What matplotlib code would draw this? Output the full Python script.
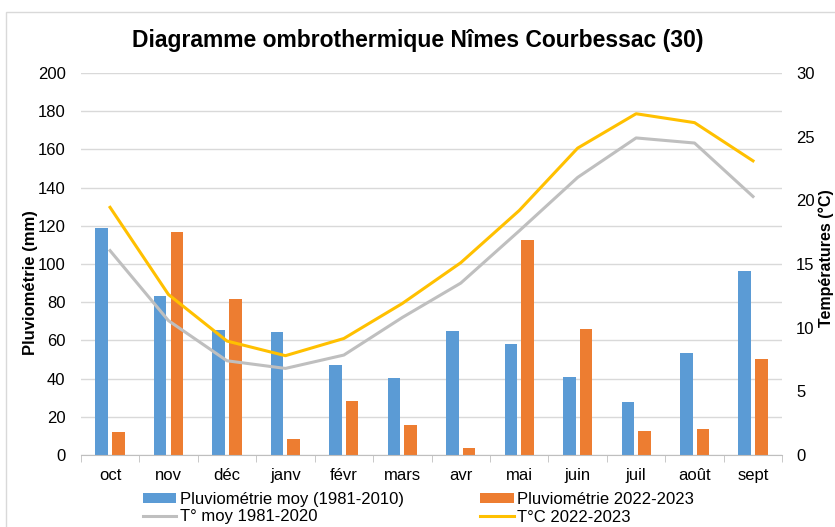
import numpy as np
import matplotlib.pyplot as plt
from matplotlib.patches import Rectangle

plt.rcParams['font.family'] = ['Liberation Sans', 'DejaVu Sans']

# données
mois = ['oct', 'nov', 'déc', 'janv', 'févr', 'mars', 'avr', 'mai', 'juin', 'juil', 'août', 'sept']
pluie_moy = [119, 83, 65.6, 64.4, 47, 40.3, 65, 58, 40.8, 28, 53.2, 96.3]
pluie_2223 = [12, 116.6, 81.5, 8.5, 28.4, 15.5, 3.7, 112.4, 66.1, 12.4, 13.4, 50.3]
temp_moy = [16.05, 10.55, 7.4, 6.8, 7.85, 10.8, 13.5, 17.6, 21.8, 24.9, 24.5, 20.3]
temp_2223 = [19.45, 12.6, 8.95, 7.8, 9.15, 11.9, 15.1, 19.2, 24.1, 26.8, 26.1, 23.1]

bleu = '#5B9BD5'
orange = '#ED7D31'
gris = '#BFBFBF'
jaune = '#FFC000'

fig = plt.figure(figsize=(8.35, 5.27), dpi=100)
fig.patches.append(Rectangle((6 / 835, -0.1), 1.1, 1 - 12 / 527 + 0.1,
                             transform=fig.transFigure, fill=False,
                             edgecolor='#D9D9D9', linewidth=1))

ax = fig.add_axes([0.0968, 0.1366, 0.84, 0.7249])
x = np.arange(len(mois))
w = 0.215
b1 = ax.bar(x - 0.142, pluie_moy, w, color=bleu, zorder=2, label='Pluviométrie moy (1981-2010)')
b2 = ax.bar(x + 0.142, pluie_2223, w, color=orange, zorder=2, label='Pluviométrie 2022-2023')
ax.set_ylim(0, 200)
ax.set_yticks(range(0, 201, 20))
ax.set_xlim(-0.5, 11.5)
ax.set_xticks(x)
ax.set_xticklabels(mois)
ax.set_xticks(np.arange(-0.5, 12, 1), minor=True)
ax.tick_params(axis='x', which='major', length=0, pad=9, labelsize=12)
ax.tick_params(axis='x', which='minor', length=5, color='#BFBFBF', direction='out')
ax.tick_params(axis='y', length=0, labelsize=12, pad=11)
ax.grid(axis='y', color='#D9D9D9', linewidth=1, zorder=0)
for s in ['top', 'left', 'right']:
    ax.spines[s].set_visible(False)
ax.spines['bottom'].set_color('#BFBFBF')
ax.set_axisbelow(True)

ax2 = ax.twinx()
l1, = ax2.plot(x, temp_moy, color=gris, linewidth=2.2, label='T° moy 1981-2020')
l2, = ax2.plot(x, temp_2223, color=jaune, linewidth=2.2, label='T°C 2022-2023')
ax2.set_ylim(0, 30)
ax2.set_yticks(range(0, 31, 5))
ax2.tick_params(axis='y', length=0, labelsize=12, pad=10)
for s in ['top', 'left', 'right', 'bottom']:
    ax2.spines[s].set_visible(False)

fig.text(0.5, 0.924, 'Diagramme ombrothermique Nîmes Courbessac (30)',
         ha='center', va='center', fontsize=16.5, fontweight='bold')
fig.text(31 / 835, 1 - 283 / 527, 'Pluviométrie (mm)', rotation=90, ha='center', va='center',
         fontsize=12, fontweight='bold')
fig.text(826 / 835, 1 - 258 / 527, 'Températures (°C)', rotation=90, ha='center', va='center',
         fontsize=11.5, fontweight='bold')

fig.legend([b1, l1, b2, l2],
           [b1.get_label(), l1.get_label(), b2.get_label(), l2.get_label()],
           ncol=2, loc='upper left', bbox_to_anchor=(143 / 835, 1 - 492 / 527),
           frameon=False, fontsize=12, handlelength=2.0, handleheight=0.5,
           handletextpad=0.2, columnspacing=4.6, borderpad=0, labelspacing=0.15,
           borderaxespad=0)

fig.savefig('out.png', dpi=100)
